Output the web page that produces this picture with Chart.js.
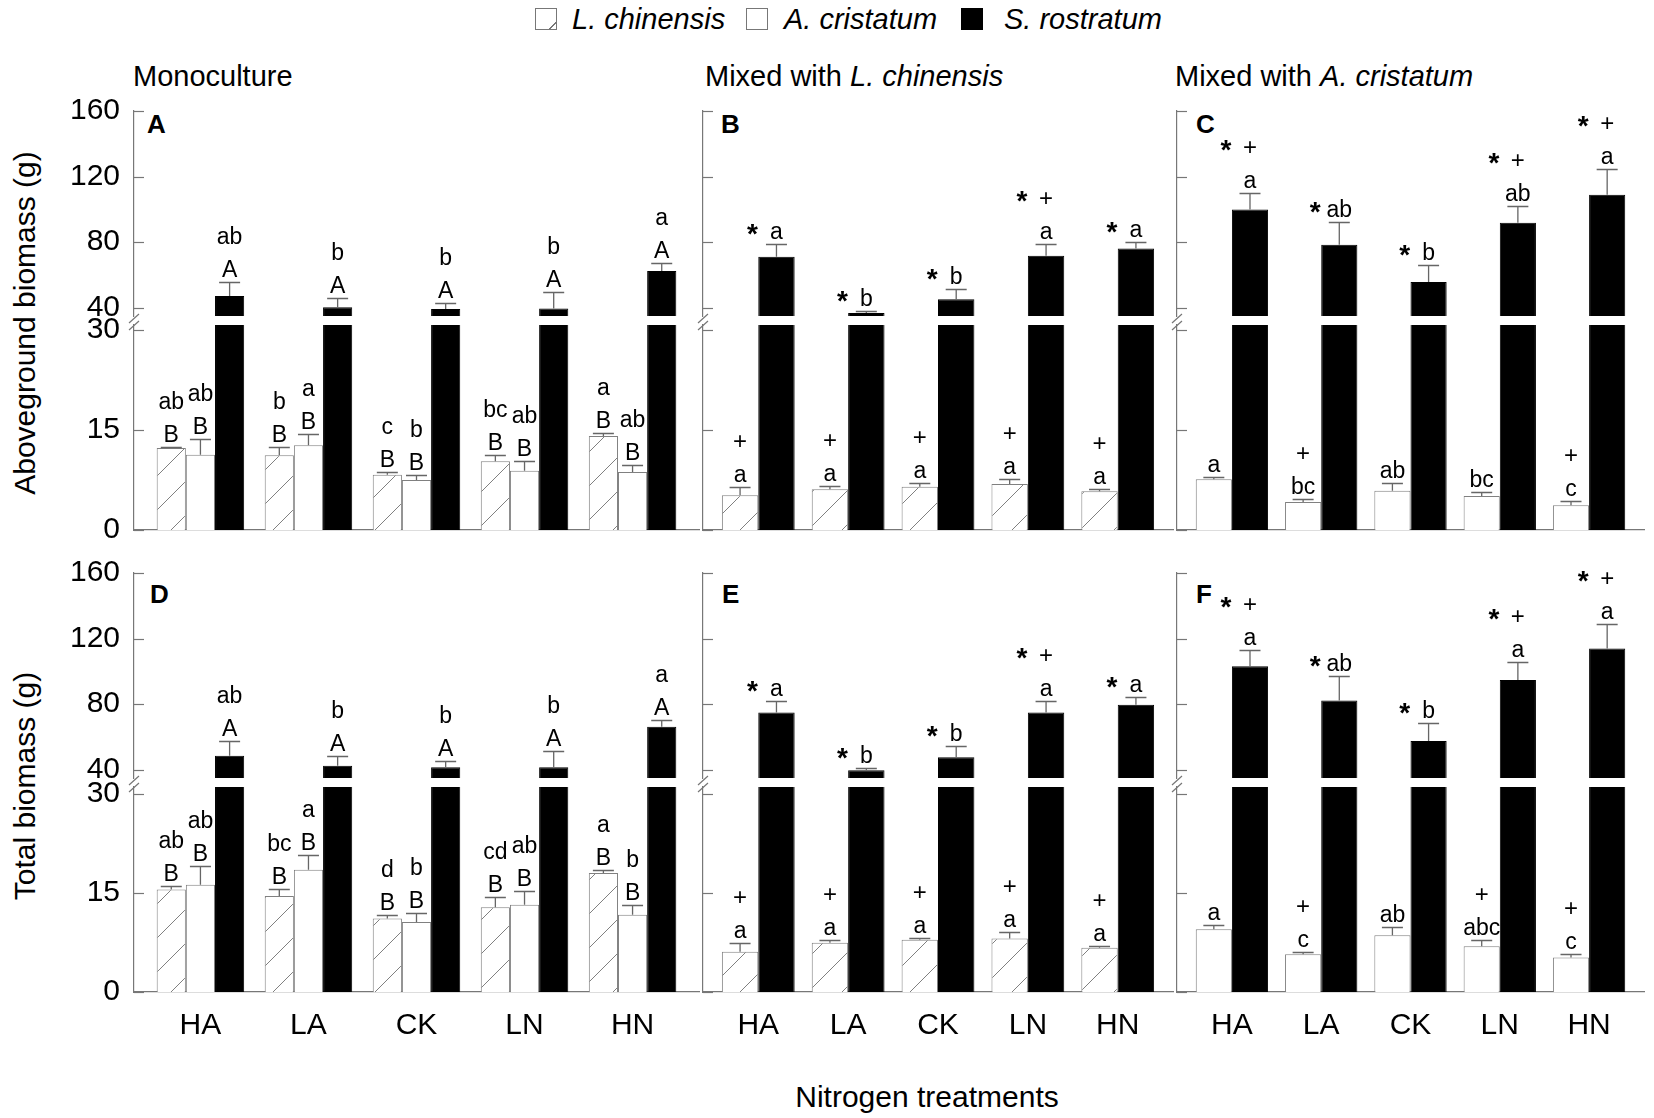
<!DOCTYPE html>
<html lang="en">
<head>
<meta charset="UTF-8">
<title>Biomass under nitrogen treatments</title>
<script src="https://cdn.jsdelivr.net/npm/chart.js"></script>
<style>
  body { margin: 0; background: #fff; font-family: "Liberation Sans", Arial, sans-serif; }
  #fig { position: relative; width: 1654px; height: 1118px; overflow: hidden; }
  .txt { position: absolute; white-space: nowrap; font-size: 29px; line-height: 29px; color: #000; }
  .big { font-size: 30px; line-height: 30px; }
  .lbl { position: absolute; font-size: 26px; line-height: 26px; font-weight: bold; }
  .box { position: absolute; top: 8px; width: 22px; height: 22px; box-sizing: border-box; border: 1px solid #777; background: #fff; }
  canvas { position: absolute; }
</style>
</head>
<body>
<div id="fig">
  <!-- legend -->
  <div class="box" style="left:535px; background:linear-gradient(to bottom right, #fff 80%, #777 81%, #777 85%, #fff 86%);"></div>
  <div class="txt" style="left:572px; top:5px;"><i>L. chinensis</i></div>
  <div class="box" style="left:746px;"></div>
  <div class="txt" style="left:784px; top:5px;"><i>A. cristatum</i></div>
  <div class="box" style="left:961px; background:#000; border-color:#000;"></div>
  <div class="txt" style="left:1004px; top:5px;"><i>S. rostratum</i></div>

  <!-- panel titles -->
  <div class="txt" style="left:133px; top:62px;">Monoculture</div>
  <div class="txt" style="left:705px; top:62px;">Mixed with <i>L. chinensis</i></div>
  <div class="txt" style="left:1175px; top:62px;">Mixed with <i>A. cristatum</i></div>

  <!-- panel letters -->
  <div class="lbl" style="left:147px; top:111px;">A</div>
  <div class="lbl" style="left:721px; top:111px;">B</div>
  <div class="lbl" style="left:1196px; top:111px;">C</div>
  <div class="lbl" style="left:150px; top:581px;">D</div>
  <div class="lbl" style="left:722px; top:581px;">E</div>
  <div class="lbl" style="left:1196px; top:581px;">F</div>

  <!-- axis titles -->
  <div class="txt big" style="left:25px; top:323px; transform:translate(-50%,-50%) rotate(-90deg);">Aboveground biomass (g)</div>
  <div class="txt big" style="left:25px; top:786px; transform:translate(-50%,-50%) rotate(-90deg);">Total biomass (g)</div>
  <div class="txt big" style="left:927px; top:1082px; transform:translateX(-50%);">Nitrogen treatments</div>
</div>

<script>
const treatments = ['HA', 'LA', 'CK', 'LN', 'HN'];

// tick values for the broken y axis
const upperTicks = [40, 80, 120, 160];
const lowerTicks = [0, 15, 30];

// A: aboveground biomass, monoculture
const aLc = [12.3, 11.2, 8.3, 10.3, 14.1];
const aLcErr = [0.15, 1.2, 0.4, 1.0, 0.4];
const aAc = [11.3, 12.7, 7.5, 8.9, 8.7];
const aAcErr = [2.3, 1.7, 0.8, 1.5, 1.0];
const aSr = [47.2, 40.3, 39.2, 39.6, 62.5];
const aSrErr = [8.5, 5.4, 3.5, 9.8, 5.1];
const aLcSig = ['ab', 'b', 'c', 'bc', 'a'];
const aAcSig = ['ab', 'a', 'b', 'ab', 'ab'];
const aSrSig = ['ab', 'b', 'b', 'b', 'a'];
const aLcSp = ['B', 'B', 'B', 'B', 'B'];
const aAcSp = ['B', 'B', 'B', 'B', 'B'];
const aSrSp = ['A', 'A', 'A', 'A', 'A'];

// B: aboveground, mixed with L. chinensis
const bLc = [5.2, 6.1, 6.5, 6.9, 5.8];
const bLcErr = [1.3, 0.5, 0.5, 0.8, 0.4];
const bSr = [71.1, 36.8, 45.2, 71.7, 76.1];
const bSrErr = [7.5, 1.2, 6.1, 7.5, 4.1];
const bLcSig = ['a', 'a', 'a', 'a', 'a'];
const bLcPlus = [1, 1, 1, 1, 1];
const bSrSig = ['a', 'b', 'b', 'a', 'a'];
const bSrPlus = [0, 0, 0, 1, 0];
const bSrStar = [1, 1, 1, 1, 1];

// C: aboveground, mixed with A. cristatum
const cAc = [7.6, 4.2, 5.9, 5.1, 3.7];
const cAcErr = [0.4, 0.4, 1.2, 0.6, 0.65];
const cSr = [100.0, 78.5, 55.8, 91.9, 108.9];
const cSrErr = [10.2, 13.6, 10.6, 10.2, 15.5];
const cAcSig = ['a', 'bc', 'ab', 'bc', 'c'];
const cAcPlus = [0, 1, 0, 0, 1];
const cSrSig = ['a', 'ab', 'b', 'ab', 'a'];
const cSrPlus = [1, 0, 0, 1, 1];
const cSrStar = [1, 1, 1, 1, 1];

// D: total biomass, monoculture
const dLc = [15.5, 14.5, 11.1, 12.8, 18.0];
const dLcErr = [0.5, 1.1, 0.5, 1.5, 0.4];
const dAc = [16.2, 18.5, 10.6, 13.2, 11.7];
const dAcErr = [2.9, 2.2, 1.4, 2.1, 1.4];
const dSr = [48.5, 42.4, 41.6, 41.6, 66.3];
const dSrErr = [9.3, 6.1, 3.5, 10.1, 4.1];
const dLcSig = ['ab', 'bc', 'd', 'cd', 'a'];
const dAcSig = ['ab', 'a', 'b', 'ab', 'b'];
const dSrSig = ['ab', 'b', 'b', 'b', 'a'];
const dLcSp = ['B', 'B', 'B', 'B', 'B'];
const dAcSp = ['B', 'B', 'B', 'B', 'B'];
const dSrSp = ['A', 'A', 'A', 'A', 'A'];

// E: total, mixed with L. chinensis
const eLc = [6.1, 7.45, 7.9, 8.1, 6.7];
const eLcErr = [1.35, 0.35, 0.25, 0.9, 0.25];
const eSr = [75.0, 39.8, 47.7, 75.0, 79.6];
const eSrErr = [7.1, 1.0, 6.7, 6.8, 4.5];
const eLcSig = ['a', 'a', 'a', 'a', 'a'];
const eLcPlus = [1, 1, 1, 1, 1];
const eSrSig = ['a', 'b', 'b', 'a', 'a'];
const eSrPlus = [0, 0, 0, 1, 0];
const eSrStar = [1, 1, 1, 1, 1];

// F: total, mixed with A. cristatum
const fAc = [9.5, 5.7, 8.6, 6.9, 5.2];
const fAcErr = [0.6, 0.35, 1.3, 0.9, 0.5];
const fSr = [103.2, 82.3, 57.5, 94.8, 113.9];
const fSrErr = [10.0, 14.8, 10.8, 11.1, 15.2];
const fAcSig = ['a', 'c', 'ab', 'abc', 'c'];
const fAcPlus = [0, 1, 0, 1, 1];
const fSrSig = ['a', 'ab', 'b', 'a', 'a'];
const fSrPlus = [1, 0, 0, 1, 1];
const fSrStar = [1, 1, 1, 1, 1];

// layout
const FONT = '"Liberation Sans", Arial, sans-serif';
const AXIS = '#777';
const LEFT = 130, AREA_H = 205, PAD_TOP = 70, PAD_BOTTOM = 70, PAD_RIGHT = 8;
const colX = [134, 702.5, 1177];
const colW = [565, 469.5, 467];
const upperTop = [111, 573];
const lowerTop = [325, 787];
const lowerMax = [30.75, 31];

Chart.defaults.font.family = FONT;

const hatch = (function () {
  const c = document.createElement('canvas');
  c.width = 34; c.height = 34;
  const g = c.getContext('2d');
  g.fillStyle = '#fff'; g.fillRect(0, 0, 34, 34);
  g.strokeStyle = '#808080'; g.lineWidth = 1;
  g.beginPath(); g.moveTo(-1, 35); g.lineTo(35, -1); g.stroke();
  return g.createPattern(c, 'repeat');
})();
const fills = { lc: hatch, ac: '#fff', sr: '#000' };
const edges = { lc: '#808080', ac: '#808080', sr: '#000' };

const panels = [
  { col: 0, row: 0, labels: true, series: [
    { kind: 'lc', values: aLc, errs: aLcErr, sig: aLcSig, sp: aLcSp },
    { kind: 'ac', values: aAc, errs: aAcErr, sig: aAcSig, sp: aAcSp },
    { kind: 'sr', values: aSr, errs: aSrErr, sig: aSrSig, sp: aSrSp } ] },
  { col: 1, row: 0, labels: false, series: [
    { kind: 'lc', values: bLc, errs: bLcErr, sig: bLcSig, plus: bLcPlus },
    { kind: 'sr', values: bSr, errs: bSrErr, sig: bSrSig, plus: bSrPlus, star: bSrStar } ] },
  { col: 2, row: 0, labels: false, series: [
    { kind: 'ac', values: cAc, errs: cAcErr, sig: cAcSig, plus: cAcPlus },
    { kind: 'sr', values: cSr, errs: cSrErr, sig: cSrSig, plus: cSrPlus, star: cSrStar } ] },
  { col: 0, row: 1, labels: true, series: [
    { kind: 'lc', values: dLc, errs: dLcErr, sig: dLcSig, sp: dLcSp },
    { kind: 'ac', values: dAc, errs: dAcErr, sig: dAcSig, sp: dAcSp },
    { kind: 'sr', values: dSr, errs: dSrErr, sig: dSrSig, sp: dSrSp } ] },
  { col: 1, row: 1, labels: false, series: [
    { kind: 'lc', values: eLc, errs: eLcErr, sig: eLcSig, plus: eLcPlus },
    { kind: 'sr', values: eSr, errs: eSrErr, sig: eSrSig, plus: eSrPlus, star: eSrStar } ] },
  { col: 2, row: 1, labels: false, series: [
    { kind: 'ac', values: fAc, errs: fAcErr, sig: fAcSig, plus: fAcPlus },
    { kind: 'sr', values: fSr, errs: fSrErr, sig: fSrSig, plus: fSrPlus, star: fSrStar } ] }
];

// ticks pointing inward, error bars, letters and the axis break
const decor = {
  id: 'decor',
  afterDatasetsDraw(chart, args, opts) {
    const ctx = chart.ctx, ys = chart.scales.y, area = chart.chartArea;
    ctx.save();
    ctx.strokeStyle = AXIS; ctx.lineWidth = 1.2;
    ys.ticks.forEach(t => {
      const y = Math.round(ys.getPixelForValue(t.value)) + 0.5;
      ctx.beginPath(); ctx.moveTo(area.left, y); ctx.lineTo(area.left + 10, y); ctx.stroke();
    });
    if (opts.lower) {
      ctx.beginPath();
      ctx.moveTo(area.left - 5, area.top - 2); ctx.lineTo(area.left + 5, area.top - 11);
      ctx.moveTo(area.left - 5, area.top + 5); ctx.lineTo(area.left + 5, area.top - 4);
      ctx.stroke();
    }
    ctx.fillStyle = '#000';
    ctx.textAlign = 'center';
    ctx.textBaseline = 'alphabetic';
    opts.series.forEach((s, d) => {
      const meta = chart.getDatasetMeta(d);
      s.values.forEach((v, i) => {
        if (v < ys.min || v > ys.max) return;
        const x = meta.data[i].x;
        const yv = ys.getPixelForValue(v);
        const ye = Math.round(ys.getPixelForValue(v + s.errs[i])) + 0.5;
        ctx.strokeStyle = '#666'; ctx.lineWidth = 1.3;
        ctx.beginPath();
        ctx.moveTo(x, yv); ctx.lineTo(x, ye);
        ctx.moveTo(x - 10.5, ye); ctx.lineTo(x + 10.5, ye);
        ctx.stroke();
        const rows = s.sp ? [s.sp[i], s.sig[i]] : [s.sig[i]];
        if (s.plus && s.plus[i]) rows.push('+');
        const base = ye - 6;
        rows.forEach((r, k) => {
          ctx.font = (r === '+' ? '24px ' : '23px ') + FONT;
          ctx.fillText(r, x, base - 33 * k);
        });
        if (s.star && s.star[i]) {
          ctx.font = 'bold 28px ' + FONT;
          ctx.fillText('*', x - 24, base - 33 * (rows.length - 1) + 4);
        }
      });
    });
    ctx.restore();
  }
};

const fig = document.getElementById('fig');

function makeChart(p, upper) {
  const x0 = colX[p.col], w = colW[p.col];
  const top = upper ? upperTop[p.row] : lowerTop[p.row];
  const yMin = upper ? 35 : 0;
  const yMax = upper ? 160 : lowerMax[p.row];
  const showX = !upper && p.row === 1;
  const cw = Math.round(LEFT + w + PAD_RIGHT), ch = PAD_TOP + AREA_H + PAD_BOTTOM;
  const canvas = document.createElement('canvas');
  canvas.width = cw; canvas.height = ch;
  canvas.style.left = (x0 - LEFT) + 'px';
  canvas.style.top = (top - PAD_TOP) + 'px';
  canvas.style.width = cw + 'px'; canvas.style.height = ch + 'px';
  fig.appendChild(canvas);

  const datasets = p.series.map(s => ({
    data: s.values.map((v, i) => ({ x: i, y: (upper ? v >= yMin : true) ? v : null })),
    backgroundColor: fills[s.kind],
    borderColor: edges[s.kind],
    borderWidth: 1,
    clip: 0
  }));

  new Chart(canvas, {
    type: 'bar',
    data: { datasets },
    options: {
      responsive: false,
      animation: false,
      devicePixelRatio: 1,
      layout: { padding: { top: PAD_TOP, right: PAD_RIGHT, bottom: 0, left: 0 } },
      datasets: { bar: { categoryPercentage: 0.81, barPercentage: 1 } },
      plugins: {
        legend: { display: false },
        tooltip: { enabled: false },
        decor: { series: p.series, lower: !upper }
      },
      scales: {
        x: {
          type: 'linear', min: -0.615, max: 4.615, offset: false,
          grid: { display: false, drawTicks: false },
          border: { display: !upper, color: AXIS, width: 1.2 },
          afterBuildTicks: s => { s.ticks = treatments.map((t, i) => ({ value: i })); },
          ticks: {
            display: showX, autoSkip: false, maxRotation: 0, padding: 16,
            color: '#000', font: { size: 30 },
            callback: v => treatments[v]
          },
          afterFit: s => { s.height = PAD_BOTTOM; }
        },
        y: {
          min: yMin, max: yMax,
          grid: { display: false, drawTicks: false },
          border: { display: true, color: AXIS, width: 1.2 },
          afterBuildTicks: s => { s.ticks = (upper ? upperTicks : lowerTicks).map(v => ({ value: v })); },
          ticks: { display: p.labels, padding: 14, color: '#000', font: { size: 30 } },
          afterFit: s => { s.width = LEFT; }
        }
      }
    },
    plugins: [decor]
  });
}

panels.forEach(p => { makeChart(p, true); makeChart(p, false); });
</script>
</body>
</html>
